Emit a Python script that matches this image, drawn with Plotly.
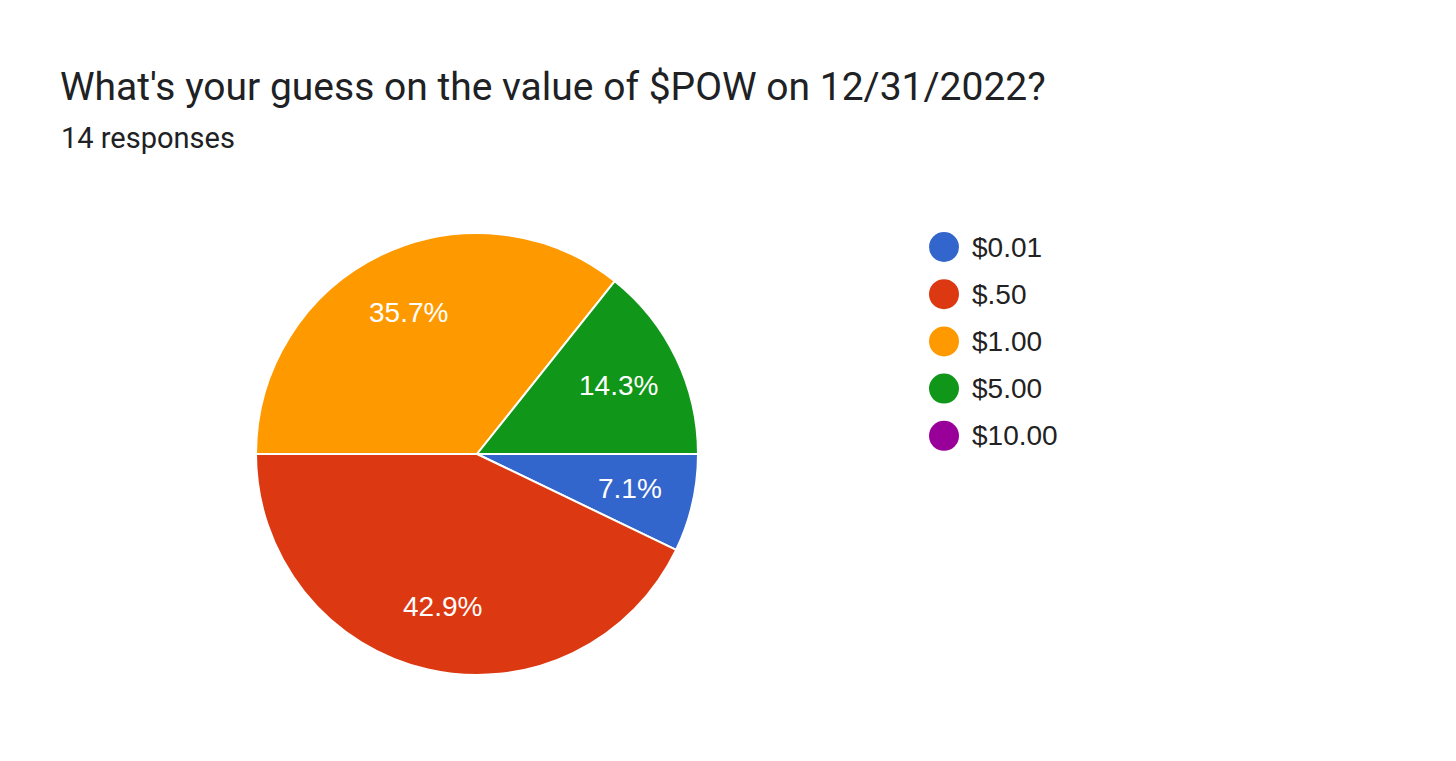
import math

import plotly.graph_objects as go

labels = ["$0.01", "$.50", "$1.00", "$5.00", "$10.00"]
counts = [1, 6, 5, 2, 0]
colors = ["#3366cc", "#dc3912", "#ff9900", "#109618", "#990099"]
title_text = "What's your guess on the value of $POW on 12/31/2022?"
subtitle_text = "14 responses"

W, H = 1456, 761
OFF = 8  # page body margin pushes the plot down/right by this much
total = sum(counts)


def px_x(x):
    return (x - OFF) / W


def px_y(y):
    return 1 - (y - OFF) / H


# pie geometry (screen pixels)
cx, cy0, rad = 477, 454, 221

fig = go.Figure()
fig.add_trace(
    go.Pie(
        labels=labels,
        values=counts,
        textinfo="none",
        marker=dict(colors=colors, line=dict(color="white", width=2)),
        sort=False,
        direction="clockwise",
        rotation=90,
        showlegend=False,
        hoverinfo="label+percent",
        domain=dict(x=[px_x(cx - rad), px_x(cx + rad)],
                    y=[px_y(cy0 + rad), px_y(cy0 - rad)]),
    )
)

annotations = [
    dict(
        text=title_text, x=px_x(58), y=px_y(87), xref="paper", yref="paper",
        xanchor="left", yanchor="middle", showarrow=False,
        font=dict(family="Roboto", size=39, color="#202124"),
    ),
    dict(
        text=subtitle_text, x=px_x(59), y=px_y(138), xref="paper", yref="paper",
        xanchor="left", yanchor="middle", showarrow=False,
        font=dict(family="Roboto", size=29, color="#202124"),
    ),
]

# slice labels at ~0.71 radius along each slice's mid angle
start = 0.0
for c in counts:
    if c:
        mid = math.radians((start + c / total / 2) * 360)
        lx = cx + 0.71 * rad * math.cos(mid)
        ly = cy0 + 0.71 * rad * math.sin(mid)
        annotations.append(
            dict(
                text=f"{c / total * 100:.1f}%", x=px_x(lx), y=px_y(ly),
                xref="paper", yref="paper", xanchor="center", yanchor="middle",
                showarrow=False,
                font=dict(family="Liberation Sans, Arial", size=28, color="white"),
            )
        )
    start += c / total

# legend drawn by hand so the markers can be large circles
shapes = []
for i, (lab, col) in enumerate(zip(labels, colors)):
    ly = 247 + i * 47.2
    shapes.append(
        dict(
            type="circle", xref="paper", yref="paper",
            x0=px_x(929), x1=px_x(959), y0=px_y(ly + 15), y1=px_y(ly - 15),
            fillcolor=col, line=dict(width=0),
        )
    )
    annotations.append(
        dict(
            text=lab, x=px_x(970), y=px_y(ly), xref="paper", yref="paper",
            xanchor="left", yanchor="middle", showarrow=False,
            font=dict(family="Liberation Sans, Arial", size=28, color="#222222"),
        )
    )

fig.update_layout(
    width=W,
    height=H,
    margin=dict(l=0, r=0, t=0, b=0),
    paper_bgcolor="white",
    plot_bgcolor="white",
    annotations=annotations,
    shapes=shapes,
)

fig.write_html("out.html")
